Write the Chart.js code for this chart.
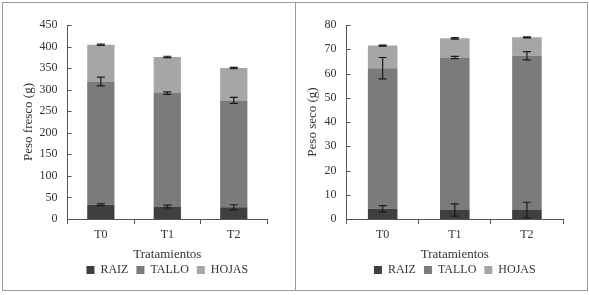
<!DOCTYPE html>
<html>
<head>
<meta charset="utf-8">
<script src="https://cdn.jsdelivr.net/npm/chart.js@4"></script>
<style>
  html, body { margin: 0; padding: 0; background: #fff; }
  body { width: 589px; height: 295px; position: relative; overflow: hidden; }
  .panel { position: absolute; top: 2px; height: 289px; box-sizing: border-box; border: 1px solid #9a9a9a; }
  #leftPanel { left: 2px; width: 294px; }
  #rightPanel { left: 295px; width: 293px; }
  .panel canvas { position: absolute; left: 0; top: 0; }
</style>
</head>
<body>
<div class="panel" id="leftPanel"><canvas id="frescoChart"></canvas></div>
<div class="panel" id="rightPanel"><canvas id="secoChart"></canvas></div>
<script>
// categories and series
const categories = ['T0', 'T1', 'T2'];
const seriesNames = ['RAIZ', 'TALLO', 'HOJAS'];

// Peso fresco (g)
const frescoRaiz = [33, 29, 27];
const frescoTallo = [286, 263, 248];
const frescoHojas = [85, 84, 75];
const frescoRaizErr = [2, 3, 6];
const frescoTalloErr = [10, 3, 7];
const frescoHojasErr = [1.5, 1.5, 1.5];

// Peso seco (g)
const secoRaiz = [4.2, 3.7, 3.7];
const secoTallo = [58.0, 62.9, 63.6];
const secoHojas = [9.3, 7.9, 7.6];
const secoRaizErr = [1.3, 2.5, 3.2];
const secoTalloErr = [4.4, 0.5, 1.7];
const secoHojasErr = [0.2, 0.3, 0.2];

const colors = ['#3f3f3f', '#7b7b7b', '#a6a6a6'];
const fontFamily = "'Liberation Serif', 'DejaVu Serif', serif";

// error bars drawn at the top of each stacked segment
const errorBars = {
    id: 'errorBars',
    afterDatasetsDraw(chart) {
        const ctx = chart.ctx;
        const yScale = chart.scales.y;
        ctx.save();
        ctx.strokeStyle = '#1a1a1a';
        ctx.lineWidth = 1.2;
        chart.data.datasets.forEach((ds, i) => {
            const meta = chart.getDatasetMeta(i);
            ds.data.forEach((v, j) => {
                let top = 0;
                for (let k = 0; k <= i; k++) top += chart.data.datasets[k].data[j];
                const err = ds.errors[j];
                const x = meta.data[j].x;
                const yHi = yScale.getPixelForValue(top + err);
                const yLo = yScale.getPixelForValue(top - err);
                ctx.beginPath();
                ctx.moveTo(x, yHi); ctx.lineTo(x, yLo);
                ctx.moveTo(x - 4, yHi); ctx.lineTo(x + 4, yHi);
                ctx.moveTo(x - 4, yLo); ctx.lineTo(x + 4, yLo);
                ctx.stroke();
            });
        });
        ctx.restore();
    }
};

// small inward ticks on the y axis
const innerTicks = {
    id: 'innerTicks',
    afterDraw(chart) {
        const ctx = chart.ctx;
        const yScale = chart.scales.y;
        ctx.save();
        ctx.strokeStyle = '#555';
        ctx.lineWidth = 1;
        yScale.ticks.forEach(t => {
            const y = Math.round(yScale.getPixelForValue(t.value)) + 0.5;
            ctx.beginPath();
            ctx.moveTo(yScale.right, y);
            ctx.lineTo(yScale.right + 4, y);
            ctx.stroke();
        });
        ctx.restore();
    }
};

function makeChart(id, raiz, tallo, hojas, errs, yMax, yStep, yTitle, pad, titlePad) {
    const values = [raiz, tallo, hojas];
    return new Chart(document.getElementById(id), {
        type: 'bar',
        data: {
            labels: categories,
            datasets: seriesNames.map((name, i) => ({
                label: name,
                data: values[i],
                errors: errs[i],
                backgroundColor: colors[i],
                borderWidth: 0,
                categoryPercentage: 1,
                barPercentage: 0.41
            }))
        },
        options: {
            responsive: true,
            maintainAspectRatio: false,
            animation: false,
            layout: { padding: pad },
            scales: {
                x: {
                    stacked: true,
                    grid: { display: true, drawOnChartArea: false, drawTicks: true, tickLength: 5, color: '#555', offset: true },
                    border: { display: true, color: '#555' },
                    ticks: { color: '#333', font: { family: fontFamily, size: 12 }, padding: 4 },
                    title: { display: true, text: 'Tratamientos', color: '#333', font: { family: fontFamily, size: 13 }, padding: { top: 0, bottom: -6 } }
                },
                y: {
                    stacked: true,
                    min: 0,
                    max: yMax,
                    grid: { display: false, drawTicks: false },
                    border: { display: true, color: '#555' },
                    ticks: { stepSize: yStep, color: '#333', font: { family: fontFamily, size: 12 }, padding: 10 },
                    title: { display: true, text: yTitle, color: '#333', font: { family: fontFamily, size: 13 }, padding: titlePad }
                }
            },
            plugins: {
                legend: {
                    position: 'bottom',
                    fullSize: false,
                    labels: { boxWidth: 8, boxHeight: 8, padding: 8, color: '#333', font: { family: fontFamily, size: 12 } }
                },
                tooltip: { enabled: false }
            }
        },
        plugins: [errorBars, innerTicks]
    });
}

makeChart('frescoChart', frescoRaiz, frescoTallo, frescoHojas,
    [frescoRaizErr, frescoTalloErr, frescoHojasErr], 450, 50, 'Peso fresco (g)',
    { top: 22, right: 28, bottom: 4, left: 16 }, { top: 2, bottom: -7 });

makeChart('secoChart', secoRaiz, secoTallo, secoHojas,
    [secoRaizErr, secoTalloErr, secoHojasErr], 80, 10, 'Peso seco (g)',
    { top: 22, right: 24, bottom: 4, left: 9 }, { top: 0, bottom: -6 });
</script>
</body>
</html>
